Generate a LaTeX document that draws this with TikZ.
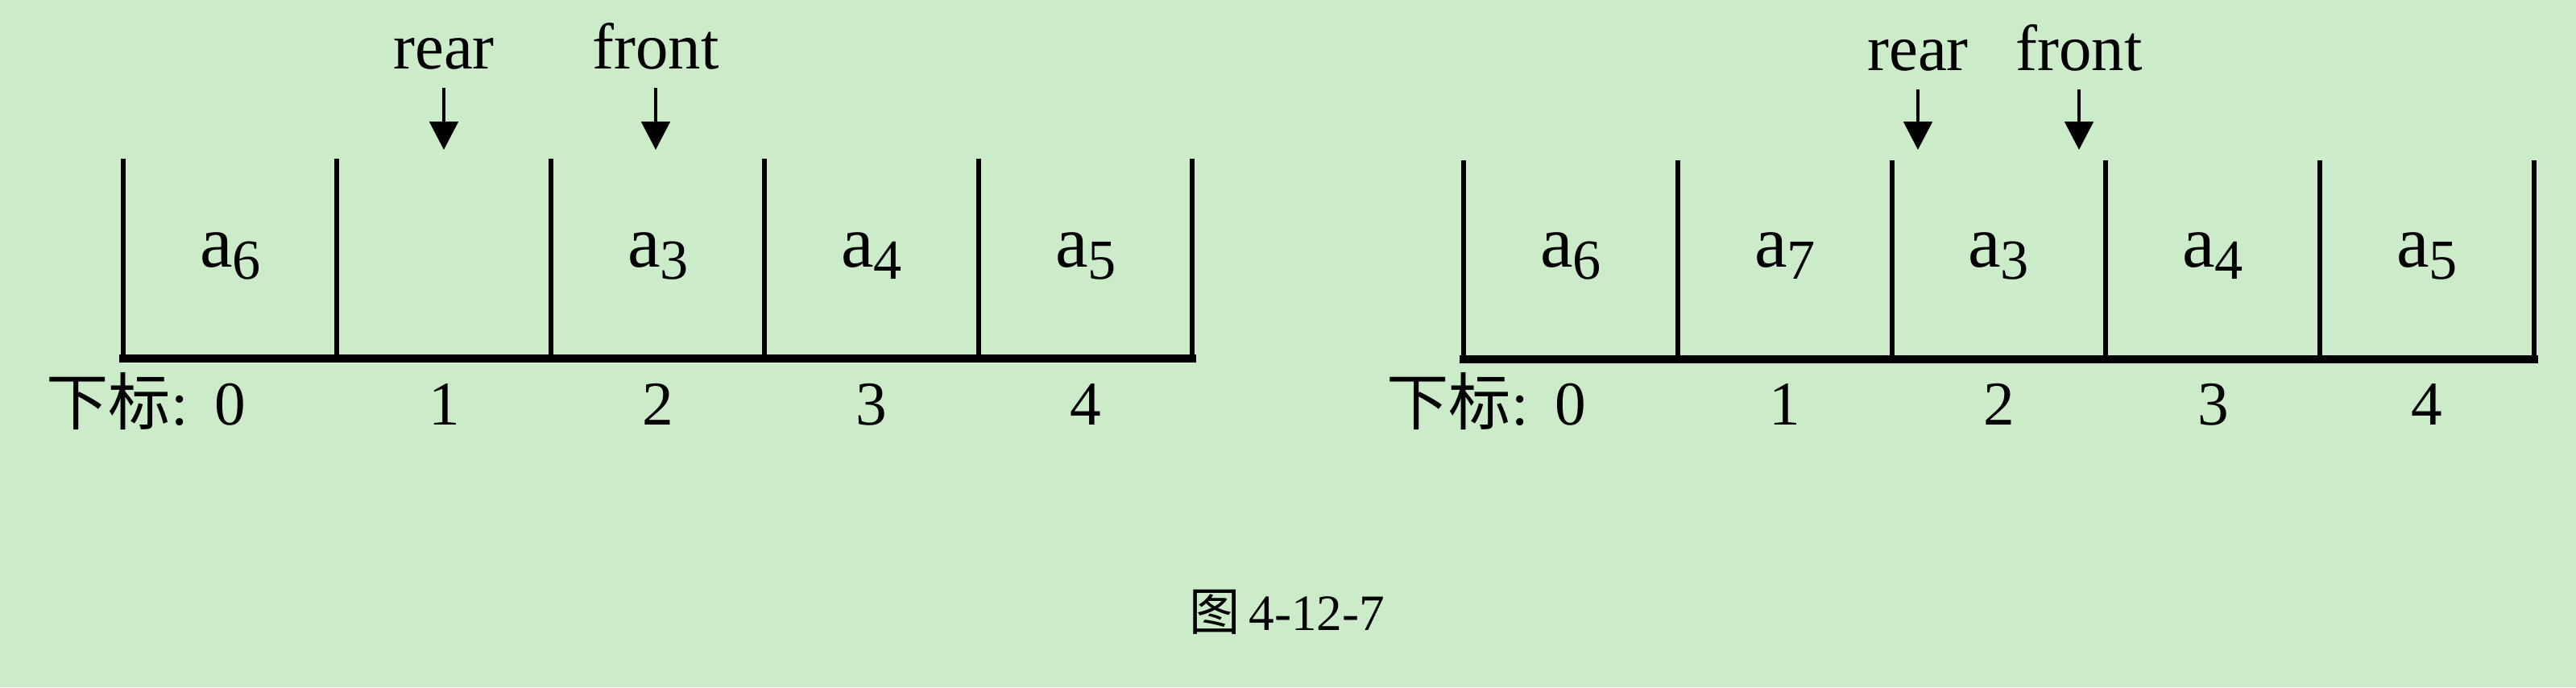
\documentclass[tikz,border=0pt]{standalone}
\usepackage{fontspec}
\setmainfont{Liberation Serif}
\newfontfamily\cjk{Noto Sans CJK SC}
\usetikzlibrary{arrows.meta}
\usepackage{xcolor}
\definecolor{bggreen}{RGB}{204,235,201}
%% element with a lowered subscript
\newcommand{\elt}[1]{a\raisebox{-0.15cm}{\fontsize{20}{20}\selectfont #1}}

\tikzset{
  cellline/.style={line width=1.7pt},
  floorline/.style={line width=2.6pt, line cap=rect},
  elem/.style={font=\fontsize{26}{30}\selectfont},
  idx/.style={font=\fontsize{22}{26}\selectfont, anchor=base, inner sep=0pt},
  ptrlabel/.style={font=\fontsize{23}{27}\selectfont, anchor=base, inner sep=0pt},
  ptrarrow/.style={line width=1.4pt, shorten <=6.5pt, -{Triangle[width=10pt,length=10pt]}}
}

\begin{document}
\begin{tikzpicture}
\useasboundingbox[fill=bggreen] (0,0) rectangle (31.98,8.53);

%% left queue: cells, entries and indices
\foreach \i in {0,...,5} \draw[cellline] (1.53+2.654*\i,6.56) -- (1.53+2.654*\i,4.08);
\draw[floorline] (1.53,4.08) -- (14.80,4.08);
\node[elem] (la0) at (2.86,5.35) {\elt{6}};
\node[elem] (la2) at (8.17,5.35) {\elt{3}};
\node[elem] (la3) at (10.82,5.35) {\elt{4}};
\node[elem] (la4) at (13.48,5.35) {\elt{5}};
\foreach \i in {0,...,4} \node[idx] (li\i) at (2.86+2.654*\i,3.26) {\i};
\node[idx, anchor=base east] (lsub) at ([xshift=-9pt]li0.base west) {{\cjk 下标}:};

%% left pointers
\node[ptrlabel] (lrear) at (5.51,7.68) {rear};
\node[ptrlabel] (lfront) at (8.14,7.68) {front};
\coordinate (lreartip) at (5.51,6.67);
\coordinate (lfronttip) at (8.14,6.67);
\draw[ptrarrow] (lrear) -- (lreartip);
\draw[ptrarrow] (lfront) -- (lfronttip);

%% right queue: cells, entries and indices
\foreach \i in {0,...,5} \draw[cellline] (18.17+2.658*\i,6.54) -- (18.17+2.658*\i,4.07);
\draw[floorline] (18.17,4.07) -- (31.46,4.07);
\node[elem] (ra0) at (19.50,5.35) {\elt{6}};
\node[elem] (ra1) at (22.16,5.35) {\elt{7}};
\node[elem] (ra2) at (24.81,5.35) {\elt{3}};
\node[elem] (ra3) at (27.47,5.35) {\elt{4}};
\node[elem] (ra4) at (30.13,5.35) {\elt{5}};
\foreach \i in {0,...,4} \node[idx] (ri\i) at (19.50+2.658*\i,3.26) {\i};
\node[idx, anchor=base east] (rsub) at ([xshift=-9pt]ri0.base west) {{\cjk 下标}:};

%% right pointers
\node[ptrlabel] (rrear) at (23.81,7.66) {rear};
\node[ptrlabel] (rfront) at (25.81,7.66) {front};
\coordinate (rreartip) at (23.81,6.67);
\coordinate (rfronttip) at (25.81,6.67);
\draw[ptrarrow] (rrear) -- (rreartip);
\draw[ptrarrow] (rfront) -- (rfronttip);

%% caption
\node[font=\fontsize{18}{22}\selectfont] (fig) at (15.98,0.93) {{\cjk 图}\,4-12-7};
\end{tikzpicture}
\end{document}
